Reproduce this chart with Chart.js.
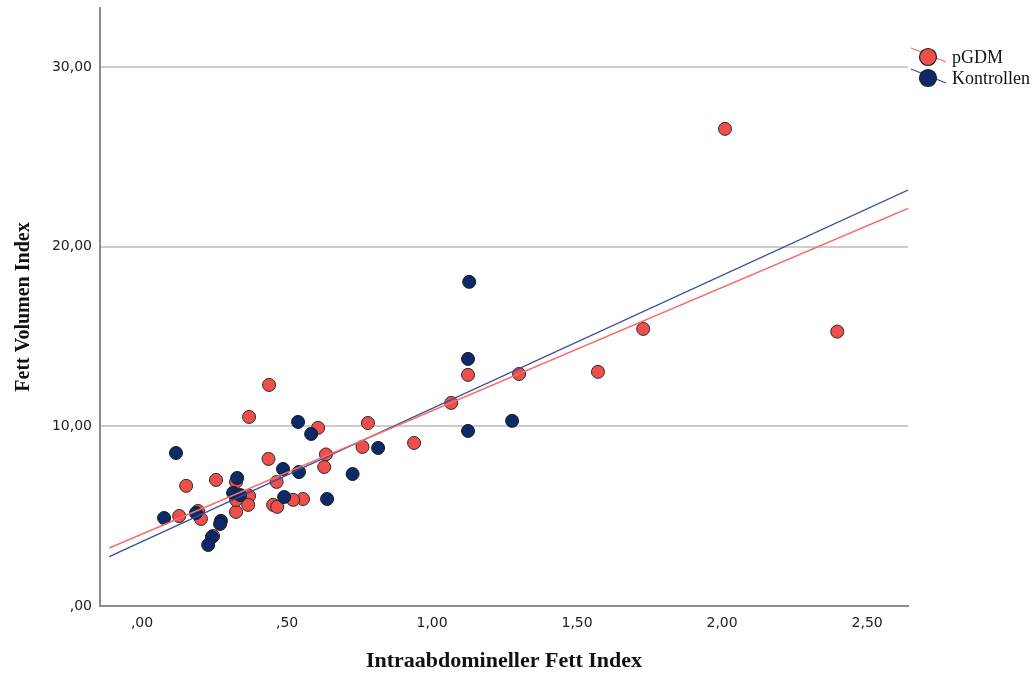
<!DOCTYPE html>
<html lang="de">
<head>
    <meta charset="UTF-8">
    <title>Fett Volumen Index vs. Intraabdomineller Fett Index</title>
    <script src="https://cdn.jsdelivr.net/npm/chart.js"></script>
    <style>
        body {
            margin: 0;
            background: #ffffff;
        }
        #wrap {
            width: 1035px;
            height: 675px;
        }
    </style>
</head>
<body>
    <div id="wrap">
        <canvas id="scatter" width="1035" height="675"></canvas>
    </div>

    <script>
        // pGDM group: intraabdominal fat index (x) and fat volume index (y)
        const pgdmX = [2.010, 2.397, 1.728, 1.572, 1.300, 1.124, 1.066, 0.938, 0.779, 0.760,
                       0.607, 0.634, 0.628, 0.438, 0.369, 0.436, 0.464, 0.555, 0.521, 0.452,
                       0.466, 0.369, 0.366, 0.324, 0.324, 0.324, 0.255, 0.152, 0.128, 0.193,
                       0.203, 0.245];
        const pgdmY = [26.57, 15.28, 15.43, 13.04, 12.92, 12.87, 11.31, 9.08, 10.19, 8.86,
                       9.92, 8.44, 7.74, 12.31, 10.53, 8.19, 6.91, 5.96, 5.91, 5.63,
                       5.52, 6.13, 5.63, 5.24, 5.91, 6.91, 7.02, 6.69, 5.01, 5.29,
                       4.85, 3.90];

        // control group
        const kontrollenX = [1.128, 1.124, 1.276, 1.124, 0.538, 0.583, 0.814, 0.726, 0.486, 0.541,
                             0.490, 0.638, 0.117, 0.328, 0.314, 0.338, 0.076, 0.186, 0.272, 0.269,
                             0.241, 0.228];
        const kontrollenY = [18.05, 13.76, 10.31, 9.75, 10.25, 9.58, 8.80, 7.35, 7.63, 7.46,
                             6.07, 5.96, 8.52, 7.13, 6.30, 6.18, 4.90, 5.18, 4.74, 4.57,
                             3.84, 3.40];

        // fit lines, start and end of each line
        const fitX = [-0.113, 2.641];
        const pgdmFitY = [3.23, 22.14];
        const kontrollenFitY = [2.75, 23.16];

        const xTicks = [0, 0.5, 1.0, 1.5, 2.0, 2.5];
        const yTicks = [0, 10, 20, 30];

        const legendLabels = ['pGDM', 'Kontrollen'];

        const RED = '#ee4f4b';
        const NAVY = '#0c296a';
        const RED_LINE = '#f56d6d';
        const BLUE_LINE = '#3c4d9c';

        const toPoints = (xs, ys) => xs.map((x, i) => ({ x: x, y: ys[i] }));

        // SPSS style numbers: comma decimal, no leading zero
        function fmt(v) {
            let s = v.toFixed(2).replace('.', ',');
            if (s.startsWith('0,')) s = s.slice(1);
            return s;
        }

        const legendPlugin = {
            id: 'sideLegend',
            afterDraw(chart) {
                const ctx = chart.ctx;
                const items = [
                    { label: legendLabels[0], fill: RED, line: RED_LINE, y: 57 },
                    { label: legendLabels[1], fill: NAVY, line: BLUE_LINE, y: 78 }
                ];
                ctx.save();
                items.forEach(it => {
                    ctx.strokeStyle = it.line;
                    ctx.lineWidth = 1.3;
                    ctx.beginPath();
                    ctx.moveTo(911, it.y - 9);
                    ctx.lineTo(946, it.y + 5);
                    ctx.stroke();

                    ctx.beginPath();
                    ctx.arc(928, it.y, 8.5, 0, Math.PI * 2);
                    ctx.fillStyle = it.fill;
                    ctx.fill();
                    ctx.lineWidth = 1.2;
                    ctx.strokeStyle = '#222';
                    ctx.stroke();

                    ctx.fillStyle = '#111';
                    ctx.font = '18px "Liberation Serif", serif';
                    ctx.textAlign = 'left';
                    ctx.textBaseline = 'middle';
                    ctx.fillText(it.label, 952, it.y + 1);
                });
                ctx.restore();
            }
        };

        new Chart(document.getElementById('scatter').getContext('2d'), {
            type: 'scatter',
            data: {
                datasets: [
                    {
                        type: 'line',
                        label: 'pGDM fit',
                        data: toPoints(fitX, pgdmFitY),
                        borderColor: RED_LINE,
                        borderWidth: 1.4,
                        pointRadius: 0,
                        fill: false,
                        order: 0
                    },
                    {
                        type: 'line',
                        label: 'Kontrollen fit',
                        data: toPoints(fitX, kontrollenFitY),
                        borderColor: BLUE_LINE,
                        borderWidth: 1.4,
                        pointRadius: 0,
                        fill: false,
                        order: 0
                    },
                    {
                        label: 'Kontrollen',
                        data: toPoints(kontrollenX, kontrollenY),
                        backgroundColor: NAVY,
                        borderColor: '#1a1a1a',
                        borderWidth: 1,
                        pointRadius: 6.5,
                        order: 1
                    },
                    {
                        label: 'pGDM',
                        data: toPoints(pgdmX, pgdmY),
                        backgroundColor: RED,
                        borderColor: '#2a2a2a',
                        borderWidth: 1,
                        pointRadius: 6.5,
                        order: 2
                    }
                ]
            },
            options: {
                responsive: false,
                animation: false,
                layout: { padding: { left: 0, top: 8, right: 127, bottom: 0 } },
                plugins: {
                    legend: { display: false },
                    tooltip: { enabled: false }
                },
                scales: {
                    x: {
                        type: 'linear',
                        min: -0.145,
                        max: 2.641,
                        afterBuildTicks: s => { s.ticks = xTicks.map(v => ({ value: v })); },
                        afterFit: s => { s.height = 69; s.paddingLeft = 0; s.paddingRight = 0; },
                        grid: { display: false, drawTicks: false },
                        border: { display: true, color: '#8c8c8c', width: 2 },
                        ticks: {
                            padding: 9,
                            color: '#222',
                            font: { family: '"DejaVu Sans"', size: 14 },
                            callback: v => fmt(v)
                        },
                        title: {
                            display: true,
                            text: 'Intraabdomineller Fett Index',
                            color: '#111',
                            font: { family: '"Liberation Serif"', size: 22, weight: 'bold' },
                            padding: { top: 4, bottom: 0 }
                        }
                    },
                    y: {
                        min: 0,
                        max: 33.3,
                        afterBuildTicks: s => { s.ticks = yTicks.map(v => ({ value: v })); },
                        afterFit: s => { s.width = 100; s.paddingTop = 0; s.paddingBottom = 0; },
                        grid: { color: '#cccccc', lineWidth: 2, drawTicks: false },
                        border: { display: true, color: '#8c8c8c', width: 2 },
                        ticks: {
                            padding: 8,
                            color: '#222',
                            font: { family: '"DejaVu Sans"', size: 14 },
                            callback: v => fmt(v)
                        },
                        title: {
                            display: true,
                            text: 'Fett Volumen Index',
                            color: '#111',
                            font: { family: '"Liberation Serif"', size: 20, weight: 'bold' },
                            padding: { top: 12, bottom: 0 }
                        }
                    }
                }
            },
            plugins: [legendPlugin]
        });
    </script>
</body>
</html>
